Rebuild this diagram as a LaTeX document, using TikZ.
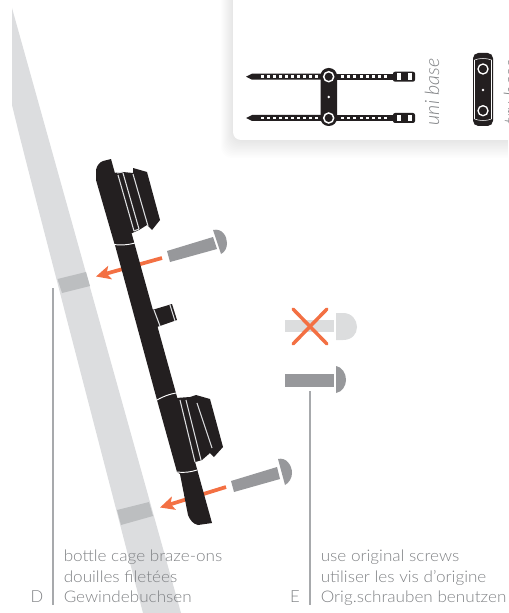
\documentclass[tikz,border=0pt]{standalone}
\usepackage{fontspec}
\setmainfont{Lato}[UprightFont=* Light,ItalicFont=* Light Italic]
\newfontfamily\capfont{Lato}[UprightFont=* Light,FakeStretch=1.07]
\usepackage{tikz}
\usetikzlibrary{arrows.meta, positioning, calc}
\definecolor{tubegray}{HTML}{DCDDDF}
\definecolor{bandgray}{HTML}{BCBEC0}
\definecolor{screwgray}{HTML}{97989B}
\definecolor{ghostgray}{HTML}{DCDDDE}
\definecolor{linegray}{HTML}{A7A9AC}
\definecolor{textgray}{HTML}{808285}
\definecolor{mountblack}{HTML}{231F20}
\definecolor{pointer}{HTML}{F37043}

\begin{document}
\begin{tikzpicture}[
    x=0.75pt, y=-0.75pt,
    caption/.style={font=\capfont\fontsize{12pt}{15.5pt}\selectfont, text=textgray, align=left, anchor=south west, inner sep=0pt, text depth=3pt},
    letter/.style={font=\fontsize{12.5pt}{14pt}\selectfont, text=textgray, anchor=base, inner sep=0pt},
    basename/.style={font=\fontsize{14.8pt}{16pt}\selectfont\itshape, text=textgray, rotate=90, inner sep=0pt},
    leader/.style={draw=linegray, line width=1.1pt},
    arrow/.style={draw=pointer, line width=2.8pt, -{Stealth[length=3.8mm, width=3.6mm, inset=0.9mm]}},
    cross/.style={draw=pointer, line width=2.6pt, line cap=round},
    seam/.style={draw=tubegray, line width=0.8pt},
    shade/.style={fill=black, fill opacity=0.009, rounded corners=8pt}
]
\clip (0,0) rectangle (508,613);

% Tube
\fill[tubegray] (12,8) -- (181,613) -- (143,613) -- (67,320) .. controls (40,215) and (24,155) .. (12,105) -- cycle;
\fill[bandgray] (57.5,279) -- (86,272) -- (90,286) -- (62,293) -- cycle;
\fill[bandgray] (117,510) -- (149,502) -- (153,516) -- (121,525) -- cycle;

% Arrows
\coordinate (upfrom) at (162,258);
\coordinate (upto) at (96,276.5);
\coordinate (lowfrom) at (226,487);
\coordinate (lowto) at (160,507.5);
\draw[arrow] (upfrom) -- (upto);
\draw[arrow] (lowfrom) -- (lowto);

% Mount
\fill[mountblack] (96,180) -- (96,170) .. controls (97,165) and (100,162) .. (103,161) -- (111,159) -- (212,523) -- (198,525) .. controls (193,524) and (190,520) .. (188,515) -- (180,474) -- (177,472) -- (157,400) -- (115.5,247) -- (114.5,244) -- cycle;
\draw[white, line width=0.7pt] (114,244.5) .. controls (120,245.5) and (128,245) .. (135,243);
\draw[white, line width=0.7pt] (157,400) .. controls (164,396) and (170,394) .. (176,393);
\draw[white, line width=0.7pt] (177,472) .. controls (184,473) and (191,472) .. (197,470);

% Upper boss
\fill[mountblack] (113,173) -- (123,172) -- (133,173) -- (133,168) -- (147,172) -- (160,220) -- (152,230) -- (147,225) -- (139,230) -- (130,234) -- cycle;
\draw[seam] (118,175) -- (134,231);
\draw[seam] (123,173) -- (139,229);
\draw[seam] (133,174) -- (148,226);
\draw[seam] (117,173) -- (123,172);
\draw[seam] (134,231) -- (139,229);

% Lower boss
\fill[mountblack] (176,398) -- (190,397) -- (196,395) -- (210,399) -- (223,447) -- (214,457) -- (210,453) -- (202,460) -- (192,463) -- cycle;
\draw[seam] (180,400) -- (195,462);
\draw[seam] (186,400) -- (201,460);
\draw[seam] (197,403) -- (212,448);

% Stud
\fill[mountblack] (152,310) -- (172,304) -- (177,320) -- (157,327) -- cycle;
\draw[seam] (154,310) -- (160,326);
\draw[seam] (170,305) -- (175,321);

% Screws
\fill[screwgray] (167,251) -- (213,237) -- (217,249) -- (170,262) -- cycle;
\fill[screwgray] (213,230) .. controls (222,228) and (227,236) .. (227,243) .. controls (227,248) and (225,252) .. (221,254) -- cycle;
\fill[screwgray] (231,481) -- (277,467) -- (280,479) -- (234,492) -- cycle;
\fill[screwgray] (278,459) .. controls (286,457) and (292,465) .. (292,473) .. controls (292,478) and (289,483) .. (285,485) -- cycle;
\fill[ghostgray] (285,320) rectangle (334,332);
\fill[ghostgray] (336,313) -- (343,313) .. controls (352,313) and (357,320) .. (357,327) .. controls (357,334) and (352,340) .. (343,340) -- (336,340) -- cycle;
\draw[cross] (293,309) -- (327,344);
\draw[cross] (327,309) -- (293,344);
\fill[screwgray] (285,374) rectangle (334,387);
\fill[screwgray] (336,366) .. controls (342,367) and (346,373) .. (346,380) .. controls (346,386) and (342,392) .. (336,393) -- cycle;

% Card
\foreach \i in {1,...,12}
  \fill[shade] (233-\i,-20) rectangle (530,140+\i*1.5);
\fill[white, rounded corners=6pt] (233,-20) rectangle (530,140);

% Uni base
\foreach \y in {76.7,118} {
  \fill[mountblack] (246,\y) -- (252,\y-3) -- (322,\y-3) -- (322,\y+3) -- (252,\y+3) -- cycle;
  \fill[mountblack] (336,\y-3) rectangle (394,\y+3);
  \fill[mountblack, rounded corners=1.5pt] (393,\y-5) rectangle (415,\y+5);
  \foreach \x in {0,...,9}
    \fill[white] (260.5+\x*6,\y-1.3) rectangle ++(3,2.6);
  \foreach \x in {0,...,7}
    \fill[white] (341+\x*6.2,\y-1.3) rectangle ++(3,2.6);
  \fill[white] (397,\y-3.3) rectangle ++(4,6.6);
  \fill[white] (408,\y-3.3) rectangle ++(4,6.6);
}
\fill[mountblack, rounded corners=6pt] (320.5,68) rectangle (337,126);
\foreach \y in {76.7,118}
  \draw[white, fill=mountblack, line width=1.1pt] (328.7,\y) circle[radius=5];
\fill[white] (328.7,97) circle[radius=1.3];
\node[basename] (uni) at (432,92) {uni base};

% Tru base
\fill[mountblack, rounded corners=4pt] (473,53) rectangle (493,126);
\draw[white, line width=0.4pt] (474.5,60) -- (474.5,119);
\draw[white, line width=0.4pt] (491.5,60) -- (491.5,119);
\draw[white, line width=0.4pt] (474.5,60) .. controls (479,58) and (487,58) .. (491.5,60);
\draw[white, line width=0.4pt] (474.5,119) .. controls (479,121) and (487,121) .. (491.5,119);
\foreach \y in {69,110.7}
  \draw[white, fill=mountblack, line width=1pt] (483,\y) circle[radius=5];
\fill[white] (483,90) circle[radius=1.3];
\node[basename] (tru) at (511,92) {tru base};

% Captions
\coordinate (dtop) at (53,288);
\coordinate (dbot) at (53,605);
\coordinate (etop) at (310,391);
\coordinate (ebot) at (310,605);
\draw[leader] (dtop) -- (dbot);
\draw[leader] (etop) -- (ebot);
\node[caption] (dtext) at (63.5,607) {bottle cage braze-ons\\douilles filetées\\Gewindebuchsen};
\node[caption] (etext) at (320.5,607) {use original screws\\utiliser les vis d’origine\\Orig.schrauben benutzen};
\node[letter] (dletter) at (37,602) {D};
\node[letter] (eletter) at (295,602) {E};

\end{tikzpicture}
\end{document}
